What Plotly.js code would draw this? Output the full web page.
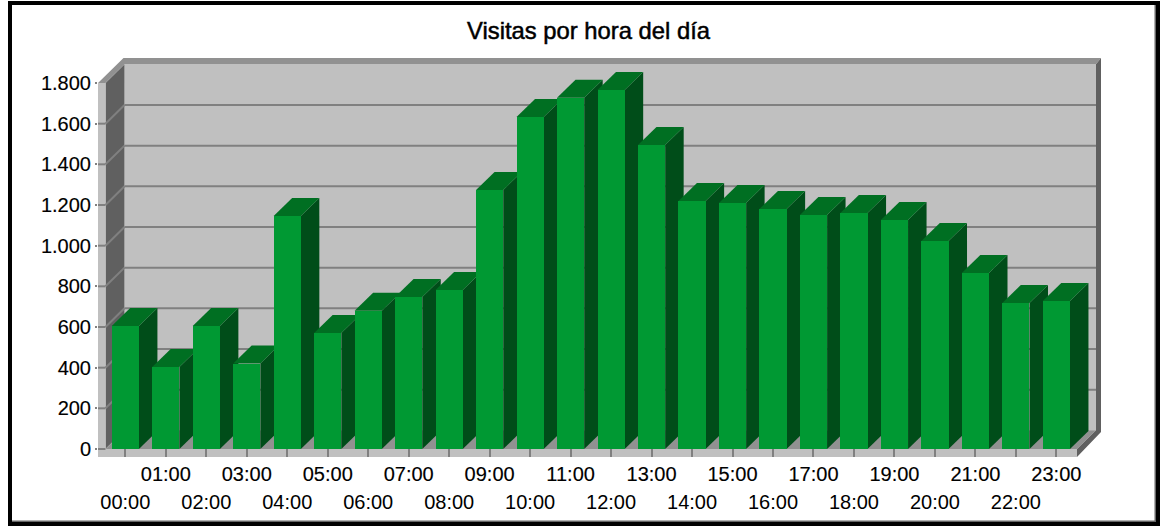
<!DOCTYPE html>
<html><head><meta charset="utf-8">
<script src="https://cdn.plot.ly/plotly-3.0.1.min.js"></script>
<style>
html,body{margin:0;padding:0;background:#fff;overflow:hidden}
#frame{position:absolute;left:7.5px;top:1px;width:1152.5px;height:525px;box-sizing:border-box;border:4px solid #000;box-shadow:inset -1.5px -1.5px 0 #666}
#chart{position:absolute;left:0;top:0;width:1160px;height:526px}
.gtitle{stroke:#000;stroke-width:0.5px}
.xtick text,.ytick text{stroke:#000;stroke-width:0.15px}
</style></head><body>
<div id="frame"></div>
<div id="chart"></div>
<script>
const hours=["00:00","01:00","02:00","03:00","04:00","05:00","06:00","07:00","08:00","09:00","10:00","11:00","12:00","13:00","14:00","15:00","16:00","17:00","18:00","19:00","20:00","21:00","22:00","23:00"];
const visits=[605,403,605,420,1146,570,680,748,782,1274,1633,1727,1766,1495,1220,1210,1180,1151,1161,1126,1023,866,718,728];
const yTicks=[0,200,400,600,800,1000,1200,1400,1600,1800];
const yTickText=["0","200","400","600","800","1.000","1.200","1.400","1.600","1.800"];
const chartTitle="Visitas por hora del día";

const W=1160,H=526;
const FL=104.6,FR=1076.6,FB=449,FT=83,VMAX=1800;  // category scale on the front plane
const PL=97.5,PR=1101,PT=58,PB=457;               // plot rectangle
const pxX=(FR-FL)/hours.length, pxY=(FB-FT)/VMAX;
const X=p=>(p-FL)/pxX-0.5, Y=p=>(FB-p)/pxY;
const dxW=19/pxX, dyW=18.7/pxY;                   // wall depth in data units
const dxB=18.5/pxX, dyB=18/pxY;                   // bar depth in data units
const barW=27.2/pxX;

function poly(pts,color,extra){
  return Object.assign({type:'path',xref:'x',yref:'y',layer:'below',
    path:'M'+pts.map(p=>p[0]+','+p[1]).join(' L')+' Z',fillcolor:color,line:{width:0}},extra||{});
}
function seg(a,b,color,w){
  return {type:'line',xref:'x',yref:'y',layer:'below',x0:a[0],y0:a[1],x1:b[0],y1:b[1],line:{color:color,width:w}};
}
const L=X(105),R=X(1077),wallL=L+dxW,wallR=X(1096);
const wallB=dyW,wallT=VMAX+dyW;
const shapes=[];
// back wall
shapes.push(poly([[wallL,wallB],[wallL,wallT],[wallR,wallT],[wallR,wallB]],'#c0c0c0'));
// left wall
shapes.push(poly([[L,0],[L,VMAX],[wallL,wallT],[wallL,wallB]],'#606060'));
// floor
shapes.push(poly([[L,0],[wallL,wallB],[wallR,wallB],[R,0]],'#919191'));
// left and bottom strips
shapes.push(poly([[X(PL),Y(PB)],[X(PL),VMAX],[L,VMAX],[L,Y(PB)]],'#c0c0c0'));
shapes.push(poly([[X(PL),Y(PB)],[X(PL),0],[R,0],[R,Y(PB)]],'#c0c0c0'));
// top strip
shapes.push(poly([[X(PL),VMAX],[X(123),Y(PT)],[X(PR),Y(PT)],[wallR,wallT],[wallL,wallT],[L,VMAX]],'#919191'));
// right strip
shapes.push(poly([[wallR,wallT],[X(PR),Y(PT)],[X(PR),Y(432)],[R,Y(PB)],[R,0],[wallR,wallB]],'#606060'));
// grid lines
yTicks.forEach(v=>{
  if(v<VMAX) shapes.push(seg([X(PL),v],[L,v],'#808080',2));
  if(v>0&&v<VMAX){
    shapes.push(seg([L,v],[wallL,v+dyW],'#808080',2));
    shapes.push(seg([wallL,v+dyW],[wallR,v+dyW],'#808080',2));
  }
});
// bar side and top faces, painted left to right under the front faces
hours.forEach((h,i)=>{
  const a=i-barW/2,b=i+barW/2,v=visits[i];
  shapes.push(poly([[b,0],[b,v],[b+dxB,v+dyB],[b+dxB,dyB]],'#004d19'));
  shapes.push(poly([[a,v],[a+dxB,v+dyB],[b+dxB,v+dyB],[b,v]],'#006f22'));
});

const idx=hours.map((h,i)=>i);
const odd=idx.filter(i=>i%2===1), even=idx.filter(i=>i%2===0);
const font={family:'"Liberation Sans",Arial,sans-serif',size:20,color:'#000'};
const xBase={range:[X(PL),X(PR)],tickmode:'array',showgrid:false,zeroline:false,showline:false,
  ticks:'inside',ticklen:8,tickwidth:2,tickcolor:'#808080',tickangle:0,tickfont:font,fixedrange:true};

const traces=[{type:'bar',x:idx,y:visits,width:barW,marker:{color:'#009933',line:{width:0}},hoverinfo:'x+y',showlegend:false}];
const layout={
  width:W,height:H,margin:{l:PL,r:W-PR,t:PT,b:H-PB,pad:0},
  paper_bgcolor:'rgba(0,0,0,0)',plot_bgcolor:'rgba(0,0,0,0)',
  showlegend:false,font:font,
  title:{text:chartTitle,font:{family:font.family,size:23.8,color:'#000'},x:588.5/W,xanchor:'center',y:1-31/H,yanchor:'middle'},
  xaxis:Object.assign({},xBase,{tickvals:odd,ticktext:odd.map(i=>hours[i]),ticklabelstandoff:3}),
  xaxis2:Object.assign({},xBase,{overlaying:'x',anchor:'y',side:'bottom',tickvals:even,ticktext:even.map(i=>hours[i]),ticklabelstandoff:31}),
  yaxis:{range:[Y(PB),Y(PT)],tickmode:'array',tickvals:yTicks,ticktext:yTickText,showgrid:false,zeroline:false,showline:false,
    ticks:'outside',ticklen:2,tickwidth:2,tickcolor:'#808080',tickfont:font,fixedrange:true},
  shapes:shapes,bargap:0
};
// an invisible trace binds the second x axis so its labels are drawn
traces.push({type:'scatter',x:even,y:even.map(()=>0),xaxis:'x2',yaxis:'y',mode:'markers',marker:{opacity:0,size:1},hoverinfo:'skip',showlegend:false});
Plotly.newPlot('chart',traces,layout,{displayModeBar:false,staticPlot:true});
</script>
</body></html>
